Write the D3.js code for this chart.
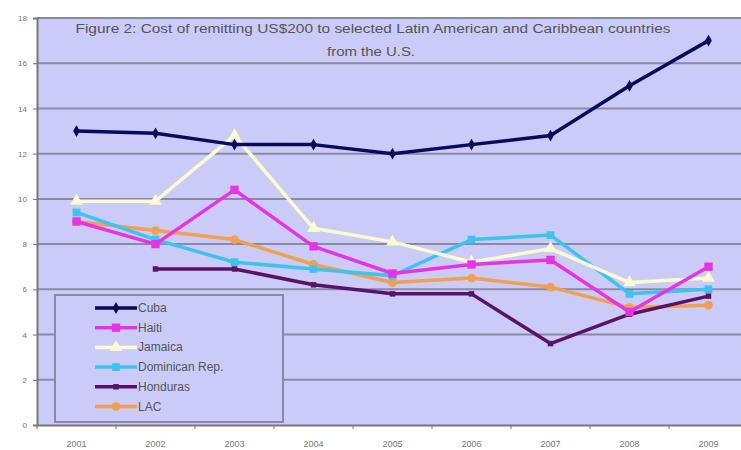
<!DOCTYPE html>
<html>
<head>
<meta charset="utf-8">
<script src="https://cdn.jsdelivr.net/npm/d3@7"></script>
<style>
  body { margin: 0; background: #fff; }
  svg { display: block; font-family: "Liberation Sans", Arial, sans-serif; }
  .tick text { fill: #777; }
</style>
</head>
<body>
<div id="chart"></div>
<script>
const years = ["2001", "2002", "2003", "2004", "2005", "2006", "2007", "2008", "2009"];
const yTicks = [0, 2, 4, 6, 8, 10, 12, 14, 16, 18];

const cuba      = [13.0, 12.9, 12.4, 12.4, 12.0, 12.4, 12.8, 15.0, 17.0];
const haiti     = [9.0, 8.0, 10.4, 7.9, 6.7, 7.1, 7.3, 5.0, 7.0];
const jamaica   = [9.9, 9.9, 12.8, 8.7, 8.1, 7.2, 7.8, 6.3, 6.5];
const dominican = [9.4, 8.2, 7.2, 6.9, 6.6, 8.2, 8.4, 5.8, 6.0];
const honduras  = [null, 6.9, 6.9, 6.2, 5.8, 5.8, 3.6, 4.9, 5.7];
const lac       = [9.0, 8.6, 8.2, 7.1, 6.3, 6.5, 6.1, 5.2, 5.3];

const seriesNames = ["Cuba", "Haiti", "Jamaica", "Dominican Rep.", "Honduras", "LAC"];

const series = [
  { name: seriesNames[0], values: cuba,      color: "#0a0a5c", symbol: d3.symbolDiamond, size: 40 },
  { name: seriesNames[1], values: haiti,     color: "#e633e6", symbol: d3.symbolSquare,  size: 70 },
  { name: seriesNames[2], values: jamaica,   color: "#fbfbd2", symbol: d3.symbolTriangle, size: 70 },
  { name: seriesNames[3], values: dominican, color: "#3cc3ee", symbol: d3.symbolSquare,  size: 60 },
  { name: seriesNames[4], values: honduras,  color: "#5a1268", symbol: d3.symbolSquare,  size: 30 },
  { name: seriesNames[5], values: lac,       color: "#f0a050", symbol: d3.symbolCircle,  size: 60 }
];

const W = 741, H = 450;
const m = { left: 37, right: 748, top: 18, bottom: 425 };

const svg = d3.select("#chart").append("svg")
  .attr("width", W).attr("height", H);

const x = d3.scaleBand().domain(years).range([m.left, m.right]).padding(0);
const y = d3.scaleLinear().domain([0, 18]).range([m.bottom, m.top]);

// plot background
svg.append("rect")
  .attr("x", m.left).attr("y", m.top)
  .attr("width", m.right - m.left).attr("height", m.bottom - m.top)
  .attr("fill", "#cbcbf7");

// gridlines
svg.append("g")
  .selectAll("line")
  .data(yTicks.filter(d => d > 0))
  .enter().append("line")
  .attr("x1", m.left).attr("x2", m.right)
  .attr("y1", d => y(d)).attr("y2", d => y(d))
  .attr("stroke", "#8a8aa8").attr("stroke-width", 2);

// y axis
const yAxis = svg.append("g")
  .attr("transform", "translate(" + m.left + ",0)")
  .call(d3.axisLeft(y).tickValues(yTicks).tickSize(4).tickPadding(6));
yAxis.select(".domain").attr("stroke", "#777").attr("stroke-width", 2);
yAxis.selectAll(".tick line").attr("stroke", "#777");
yAxis.selectAll("text").style("font-size", "8px");

// x axis
const xAxis = svg.append("g")
  .attr("transform", "translate(0," + m.bottom + ")")
  .call(d3.axisBottom(x).tickSize(0).tickPadding(16));
xAxis.select(".domain").attr("stroke", "#777").attr("stroke-width", 2);
xAxis.selectAll("text").style("font-size", "9px");
svg.append("g")
  .selectAll("line")
  .data(years)
  .enter().append("line")
  .attr("x1", d => x(d)).attr("x2", d => x(d))
  .attr("y1", m.bottom).attr("y2", m.bottom + 4)
  .attr("stroke", "#777");

// title
const title = svg.append("text")
  .attr("text-anchor", "middle")
  .attr("fill", "#555")
  .style("font-size", "12px");
title.append("tspan").attr("x", 373).attr("y", 33)
  .attr("textLength", 595).attr("lengthAdjust", "spacingAndGlyphs")
  .text("Figure 2: Cost of remitting US$200 to selected Latin American and Caribbean countries");
title.append("tspan").attr("x", 371).attr("y", 56)
  .attr("textLength", 88).attr("lengthAdjust", "spacingAndGlyphs")
  .text("from the U.S.");

// lines
const line = d3.line()
  .defined(d => d != null)
  .x((d, i) => x(years[i]) + x.bandwidth() / 2)
  .y(d => y(d));

const lineOrder = [5, 4, 3, 2, 1, 0];
lineOrder.forEach(k => {
  const s = series[k];
  svg.append("path")
    .datum(s.values)
    .attr("fill", "none")
    .attr("stroke", s.color)
    .attr("stroke-width", 3.5)
    .attr("stroke-linejoin", "round")
    .attr("d", line);
  svg.append("g")
    .selectAll("path")
    .data(s.values.map((v, i) => ({ v, i })).filter(d => d.v != null))
    .enter().append("path")
    .attr("transform", d => "translate(" + (x(years[d.i]) + x.bandwidth() / 2) + "," + y(d.v) + ")")
    .attr("d", d3.symbol().type(s.symbol).size(s.size))
    .attr("fill", s.color);
});

// legend
const lg = svg.append("g");
lg.append("rect")
  .attr("x", 55).attr("y", 295)
  .attr("width", 228).attr("height", 127)
  .attr("fill", "#cbcbf7")
  .attr("stroke", "#8a8aa8").attr("stroke-width", 2);

series.forEach((s, i) => {
  const ly = 308 + i * 19.7;
  lg.append("line")
    .attr("x1", 95).attr("x2", 137)
    .attr("y1", ly).attr("y2", ly)
    .attr("stroke", s.color).attr("stroke-width", 3.5);
  lg.append("path")
    .attr("transform", "translate(116," + ly + ")")
    .attr("d", d3.symbol().type(s.symbol).size(s.size))
    .attr("fill", s.color);
  lg.append("text")
    .attr("x", 138).attr("y", ly + 4)
    .attr("fill", "#555")
    .style("font-size", "12px")
    .text(s.name);
});
</script>
</body>
</html>
